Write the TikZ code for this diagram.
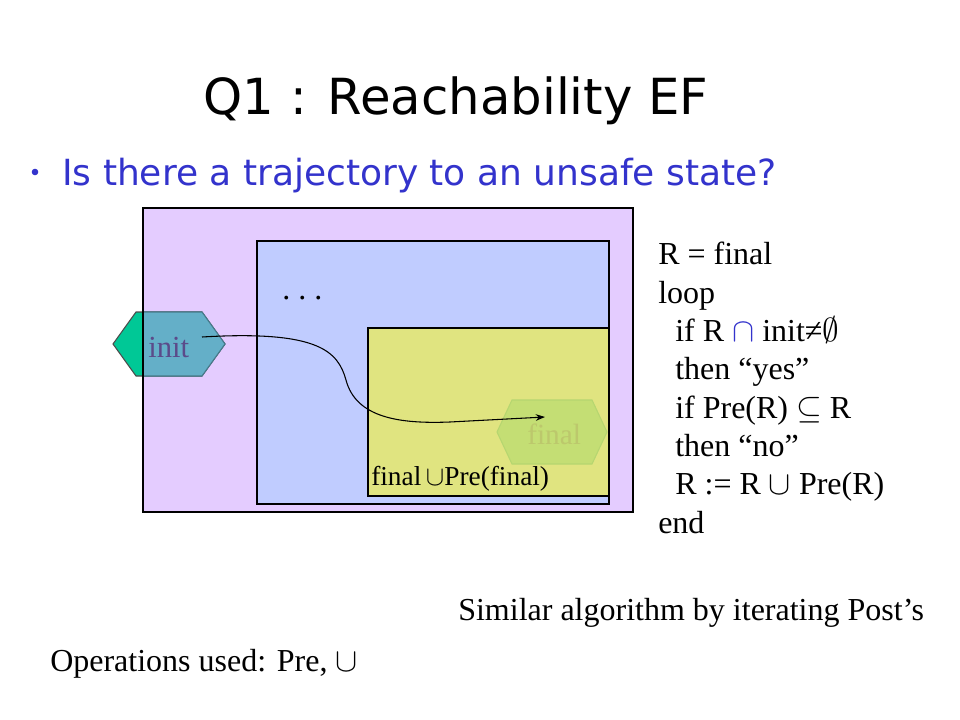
\documentclass[tikz,border=0pt]{standalone}
\usepackage{fontspec}
\setmainfont{Liberation Serif}
\newfontfamily\titlefont{DejaVu Sans}
\usetikzlibrary{arrows.meta}
\definecolor{purplebg}{HTML}{E4CCFF}
\definecolor{bluebg}{HTML}{C0CCFF}
\definecolor{yellowbg}{HTML}{E0E480}
\definecolor{initgreen}{HTML}{00C896}
\definecolor{initover}{HTML}{64AFC8}
\definecolor{inittext}{HTML}{5B4B8A}
\definecolor{finalfill}{HTML}{C4DE74}
\definecolor{finalline}{HTML}{B6D670}
\definecolor{finaltext}{HTML}{BCC86C}
\definecolor{bulletblue}{HTML}{3333CC}
\tikzset{
  algline/.style={anchor=base west, inner sep=0pt, font=\fontsize{24}{28.8}\selectfont},
  plain/.style={anchor=base west, inner sep=0pt, font=\fontsize{24}{28.8}\selectfont},
  setbox/.style={draw=black, line width=0.9pt},
  traj/.style={-{Stealth[length=7pt,width=5pt]}, line width=0.8pt}
}
\begin{document}
\begin{tikzpicture}[x=0.75pt,y=-0.75pt]
\useasboundingbox (0,0) rectangle (960,720);
\fill[white] (0,0) rectangle (960,720);
% title
\node[anchor=base, inner sep=0pt, font=\titlefont\fontsize{37.3}{44}\selectfont] (title) at (456,115) {Q1 : Reachability EF};
\fill[bulletblue] (35,172) circle (3.3);
\node[anchor=base west, inner sep=0pt, text=bulletblue, font=\titlefont\fontsize{27}{32}\selectfont] (question) at (62,186) {Is there a trajectory to an unsafe state?};
% sets
\fill[purplebg] (143,208) rectangle (633,512);
\fill[bluebg] (257,241) rectangle (609,504);
\draw[setbox] (257,241) rectangle (609,504);
\fill[yellowbg] (368,328) rectangle (609,496);
\draw[setbox] (368,328) rectangle (609,496);
% final hexagon
\filldraw[fill=finalfill, draw=finalline, line width=0.8pt] (497,432) -- (512,400) -- (592,400) -- (607,432) -- (592,464) -- (512,464) -- cycle;
\node[anchor=base west, inner sep=0pt, text=finaltext, font=\fontsize{22}{26}\selectfont] (final) at (527,444) {final};
% init hexagon
\filldraw[fill=initgreen, draw=black!70, line width=0.8pt] (113,344) -- (136,312) -- (202,312) -- (225,344) -- (202,376) -- (136,376) -- cycle;
\begin{scope}
  \clip (143,208) rectangle (633,512);
  \filldraw[fill=initover, draw=initover!70!black, line width=0.8pt] (113,344) -- (136,312) -- (202,312) -- (225,344) -- (202,376) -- (136,376) -- cycle;
\end{scope}
\draw[setbox] (143,208) rectangle (633,512);
\node[anchor=base west, inner sep=0pt, text=inittext, font=\fontsize{23}{27}\selectfont] (init) at (148,357) {init};
% labels in sets
\node[plain] (dots) at (282,300) {.\ .\ .};
\node[anchor=base west, inner sep=0pt, font=\fontsize{20.5}{24}\selectfont] (union) at (371,485) {final\,$\cup$Pre(final)};
% trajectory
\coordinate (start) at (202,337);
\coordinate (goal) at (545,417);
\draw[traj] (start) .. controls (320,330) and (338,352) .. (346,380) .. controls (356,418) and (400,424) .. (450,422) -- (goal);
% algorithm
\node[algline] (l0) at (658,265) {R = final};
\node[algline] (l1) at (658,303.3) {loop};
\node[algline] (l2) at (675,341.6) {if R {\color{bulletblue}$\cap$} init≠$\emptyset$};
\node[algline] (l3) at (675,379.9) {then “yes”};
\node[algline] (l4) at (675,418.2) {if Pre(R) $\subseteq$ R};
\node[algline] (l5) at (675,456.5) {then “no”};
\node[algline] (l6) at (675,494.8) {R := R $\cup$ Pre(R)};
\node[algline] (l7) at (658,533.1) {end};
% footnotes
\node[plain] (similar) at (458,620) {Similar algorithm by iterating Post’s};
\node[plain] (ops) at (50,671) {Operations used: Pre, $\cup$};
\end{tikzpicture}
\end{document}
